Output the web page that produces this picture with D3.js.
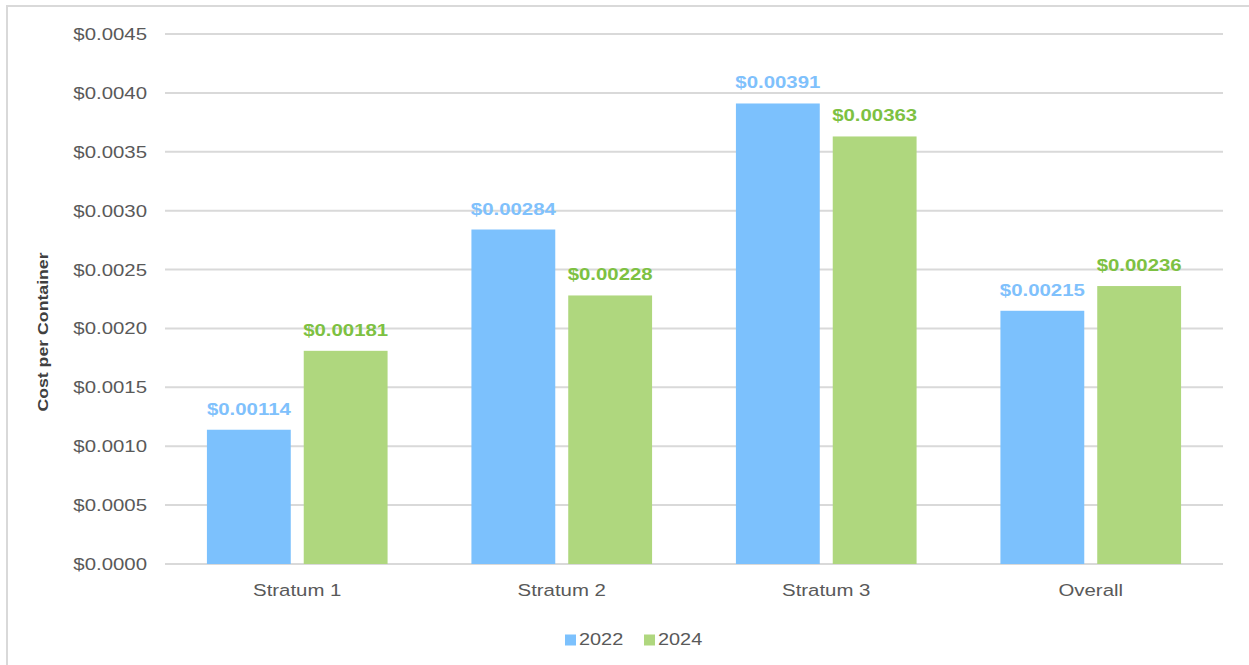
<!DOCTYPE html>
<html>
<head>
<meta charset="utf-8">
<script src="https://cdn.jsdelivr.net/npm/d3@7"></script>
<style>
  body { margin: 0; background: #fff; }
  text { font-family: "Liberation Sans", Arial, sans-serif; }
</style>
</head>
<body>
<script>
// data
let categories = ["Stratum 1", "Stratum 2", "Stratum 3", "Overall"];
let series = ["2022", "2024"];
let values2022 = [0.00114, 0.00284, 0.00391, 0.00215];
let values2024 = [0.00181, 0.00228, 0.00363, 0.00236];
let yTicks = [0, 0.0005, 0.001, 0.0015, 0.002, 0.0025, 0.003, 0.0035, 0.004, 0.0045];

let barColors = ["#7cc1fd", "#afd77e"];
let labelColors = ["#7fc1fc", "#7dc142"];

let svgWidth = 1249, svgHeight = 665;
let plot = { left: 165, right: 1223, top: 34, bottom: 564 };
let sx = 1.2; // text in the original is a bit stretched horizontally

let svg = d3.select("body").append("svg")
  .attr("width", svgWidth)
  .attr("height", svgHeight);

// outer frame
svg.append("rect")
  .attr("x", 7).attr("y", 6)
  .attr("width", svgWidth + 10).attr("height", svgHeight + 10)
  .attr("fill", "none")
  .attr("stroke", "#d9d9d9")
  .attr("stroke-width", 2);

// scales
let x0 = d3.scaleBand()
  .domain(categories)
  .range([plot.left, plot.right])
  .padding(0);
let x1 = d3.scaleBand()
  .domain(series)
  .range([0, x0.bandwidth()])
  .paddingInner(0.134)
  .paddingOuter(0.433);
let y = d3.scaleLinear()
  .domain([0, 0.0045])
  .range([plot.bottom, plot.top]);

// gridlines
svg.append("g").selectAll("line").data(yTicks).join("line")
  .attr("x1", plot.left).attr("x2", plot.right)
  .attr("y1", d => y(d)).attr("y2", d => y(d))
  .attr("stroke", "#d9d9d9")
  .attr("stroke-width", 2);

// y tick labels
svg.append("g").selectAll("text").data(yTicks).join("text")
  .attr("transform", d => `translate(147, ${y(d)}) scale(${sx}, 1)`)
  .attr("dy", "0.35em")
  .attr("text-anchor", "end")
  .attr("fill", "#595959")
  .style("font-size", "17px")
  .text(d => "$" + d3.format(".4f")(d));

// y title
svg.append("text")
  .attr("transform", `translate(48, 332) rotate(-90) scale(1.18, 1)`)
  .attr("text-anchor", "middle")
  .attr("fill", "#404040")
  .style("font-size", "15px")
  .style("font-weight", "bold")
  .text("Cost per Container");

// bars
let rows = categories.map((c, i) => ({ cat: c, vals: [values2022[i], values2024[i]] }));
let groups = svg.append("g").selectAll("g").data(rows).join("g")
  .attr("transform", d => `translate(${x0(d.cat)}, 0)`);

groups.selectAll("rect").data(d => d.vals.map((v, j) => ({ s: series[j], v, j }))).join("rect")
  .attr("x", d => x1(d.s))
  .attr("y", d => y(d.v))
  .attr("width", x1.bandwidth())
  .attr("height", d => y(0) - y(d.v))
  .attr("fill", d => barColors[d.j]);

groups.selectAll("text").data(d => d.vals.map((v, j) => ({ s: series[j], v, j }))).join("text")
  .attr("transform", d => `translate(${x1(d.s) + x1.bandwidth() / 2}, ${y(d.v) - 15}) scale(${sx}, 1)`)
  .attr("text-anchor", "middle")
  .attr("fill", d => labelColors[d.j])
  .style("font-size", "17px")
  .style("font-weight", "bold")
  .text(d => "$" + d3.format(".5f")(d.v));

// category labels
svg.append("g").selectAll("text").data(categories).join("text")
  .attr("transform", d => `translate(${x0(d) + x0.bandwidth() / 2}, 596) scale(${sx}, 1)`)
  .attr("text-anchor", "middle")
  .attr("fill", "#595959")
  .style("font-size", "17px")
  .text(d => d);

// legend
let legendX = [565, 644];
let legend = svg.append("g").selectAll("g").data(series).join("g")
  .attr("transform", (d, i) => `translate(${legendX[i]}, 634.5)`);
legend.append("rect")
  .attr("x", 0).attr("y", 0)
  .attr("width", 11).attr("height", 11)
  .attr("fill", (d, i) => barColors[i]);
legend.append("text")
  .attr("transform", `translate(14, 10.5) scale(1.17, 1)`)
  .attr("fill", "#595959")
  .style("font-size", "17px")
  .text(d => d);
</script>
</body>
</html>
